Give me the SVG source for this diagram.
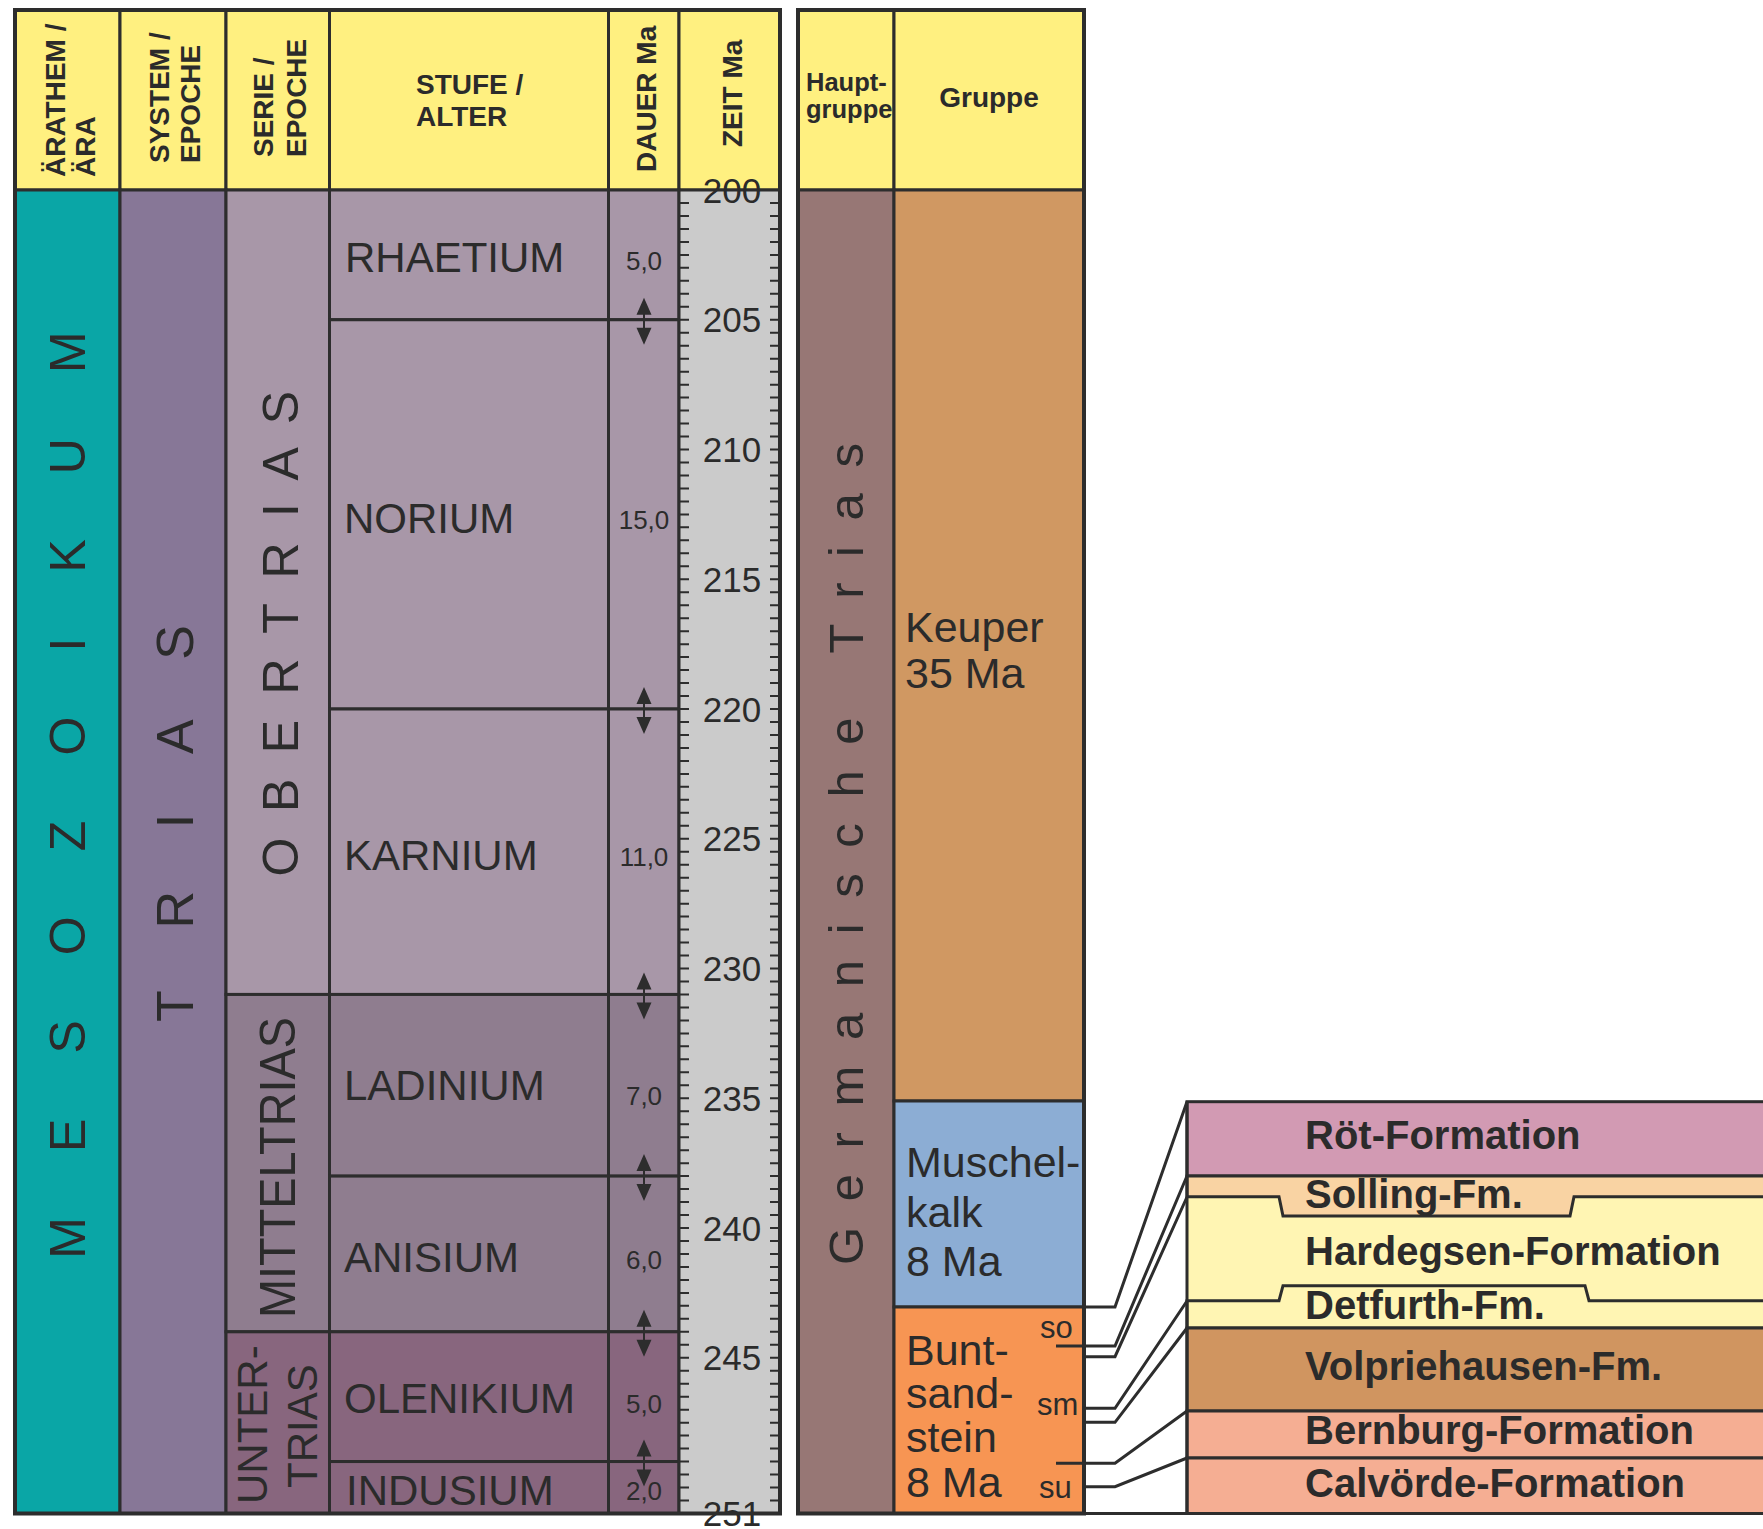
<svg xmlns="http://www.w3.org/2000/svg" width="1763" height="1529" viewBox="0 0 1763 1529">
<style>
.c{stroke:#2d2d2d;stroke-width:3}
.t{font-family:"Liberation Sans",Arial,Helvetica,sans-serif;fill:#2b2b2b}
.b{font-weight:bold}
.hd{font-size:28px;font-weight:bold}
.st{font-size:42px}
.du{font-size:26px;text-anchor:middle}
.ze{font-size:35px;text-anchor:middle}
.fm{font-size:40px;font-weight:bold}
.gr{font-size:43px}
.ln{fill:none;stroke:#2d2d2d;stroke-width:3}
.y{fill:#fff080}
.ob{fill:#a897a8}
.mi{fill:#8f7d8f}
.un{fill:#88667e}
</style>
<defs>
<g id="arr">
<path d="M0,-8V11" stroke="#2d2d2d" stroke-width="2"/>
<path d="M0,-22L-7.5,-5H7.5Z M0,25L-7.5,8H7.5Z" fill="#2d2d2d"/>
</g>
</defs>
<rect width="1763" height="1529" fill="#fff"/>

<!-- header cells -->
<g id="h-arathem"><rect class="c y" x="15" y="10" width="105" height="180"/>
<text class="t hd" transform="translate(65,177) rotate(-90)">ÄRATHEM /</text>
<text class="t hd" transform="translate(95,177) rotate(-90)">ÄRA</text></g>
<g id="h-system"><rect class="c y" x="120" y="10" width="106" height="180"/>
<text class="t hd" transform="translate(168.5,163) rotate(-90)">SYSTEM /</text>
<text class="t hd" transform="translate(200,163) rotate(-90)">EPOCHE</text></g>
<g id="h-serie"><rect class="c y" x="226" y="10" width="103.5" height="180"/>
<text class="t hd" transform="translate(273,157) rotate(-90)">SERIE /</text>
<text class="t hd" transform="translate(305.5,157) rotate(-90)">EPOCHE</text></g>
<g id="h-stufe"><rect class="c y" x="329.5" y="10" width="279" height="180"/>
<text class="t hd" x="416" y="94">STUFE /</text>
<text class="t hd" x="416" y="125.7">ALTER</text></g>
<g id="h-dauer"><rect class="c y" x="608.5" y="10" width="70.5" height="180"/>
<text class="t hd" transform="translate(655.5,172) rotate(-90)">DAUER Ma</text></g>
<g id="h-zeit"><rect class="c y" x="679" y="10" width="101" height="180"/>
<text class="t hd" transform="translate(742,147) rotate(-90)">ZEIT Ma</text></g>

<!-- era / system -->
<g id="mesozoikum"><rect class="c" fill="#0aa6a6" x="15" y="190" width="105" height="1323.5"/>
<text class="t" font-size="50" letter-spacing="25.6" transform="translate(85,1258.8) rotate(-90)">M E S O Z O I K U M</text></g>
<g id="trias"><rect class="c" fill="#877797" x="120" y="190" width="106" height="1323.5"/>
<text class="t" font-size="52" letter-spacing="24.1" transform="translate(192.6,1022) rotate(-90)">T R I A S</text></g>

<!-- series -->
<g id="obertrias"><rect class="c ob" x="226" y="190" width="103.5" height="804.45"/>
<text class="t" font-size="50" letter-spacing="5.8" transform="translate(298,876.5) rotate(-90)">O B E R T R I A S</text></g>
<g id="mitteltrias"><rect class="c mi" x="226" y="994.45" width="103.5" height="337.35"/>
<text class="t" font-size="50" textLength="301" lengthAdjust="spacingAndGlyphs" transform="translate(295,1318) rotate(-90)">MITTELTRIAS</text></g>
<g id="untertrias"><rect class="c un" x="226" y="1331.8" width="103.5" height="181.7"/>
<text class="t" font-size="42" transform="translate(267,1504) rotate(-90)">UNTER-</text>
<text class="t" font-size="42" transform="translate(317,1488) rotate(-90)">TRIAS</text></g>

<!-- stages -->
<g id="rhaetium"><rect class="c ob" x="329.5" y="190" width="279" height="129.75"/><rect class="c ob" x="608.5" y="190" width="70.5" height="129.75"/>
<text class="t st" x="345" y="272">RHAETIUM</text><text class="t du" x="644" y="270">5,0</text></g>
<g id="norium"><rect class="c ob" x="329.5" y="319.75" width="279" height="389.25"/><rect class="c ob" x="608.5" y="319.75" width="70.5" height="389.25"/>
<text class="t st" x="344" y="532.5">NORIUM</text><text class="t du" x="644" y="529">15,0</text></g>
<g id="karnium"><rect class="c ob" x="329.5" y="709" width="279" height="285.45"/><rect class="c ob" x="608.5" y="709" width="70.5" height="285.45"/>
<text class="t st" x="344" y="870">KARNIUM</text><text class="t du" x="644" y="866">11,0</text></g>
<g id="ladinium"><rect class="c mi" x="329.5" y="994.45" width="279" height="181.65"/><rect class="c mi" x="608.5" y="994.45" width="70.5" height="181.65"/>
<text class="t st" x="344" y="1100">LADINIUM</text><text class="t du" x="644" y="1105">7,0</text></g>
<g id="anisium"><rect class="c mi" x="329.5" y="1176.1" width="279" height="155.7"/><rect class="c mi" x="608.5" y="1176.1" width="70.5" height="155.7"/>
<text class="t st" x="344" y="1272">ANISIUM</text><text class="t du" x="644" y="1269">6,0</text></g>
<g id="olenikium"><rect class="c un" x="329.5" y="1331.8" width="279" height="129.75"/><rect class="c un" x="608.5" y="1331.8" width="70.5" height="129.75"/>
<text class="t st" x="344" y="1413">OLENIKIUM</text><text class="t du" x="644" y="1412.7">5,0</text></g>
<g id="indusium"><rect class="c un" x="329.5" y="1461.55" width="279" height="51.95"/><rect class="c un" x="608.5" y="1461.55" width="70.5" height="51.95"/>
<text class="t st" x="346" y="1505">INDUSIUM</text><text class="t du" x="644" y="1500">2,0</text></g>

<!-- duration arrows -->
<g id="dauer-arrows">
<use href="#arr" x="644" y="319.75"/>
<use href="#arr" x="644" y="709"/>
<use href="#arr" x="644" y="994.45"/>
<use href="#arr" x="644" y="1176.1"/>
<use href="#arr" x="644" y="1331.8"/>
<use href="#arr" x="644" y="1461.55"/>
</g>

<!-- time scale -->
<g id="zeit-scale"><rect class="c" fill="#cbcbcb" x="679" y="190" width="101" height="1323.5"/>
<line x1="684" y1="201.98" x2="684" y2="1502" stroke="#2d2d2d" stroke-width="10" stroke-dasharray="2 10.975"/>
<line x1="775" y1="201.98" x2="775" y2="1502" stroke="#2d2d2d" stroke-width="10" stroke-dasharray="2 10.975"/>
<text class="t ze" x="732" y="202.5">200</text>
<text class="t ze" x="732" y="332.3">205</text>
<text class="t ze" x="732" y="462">210</text>
<text class="t ze" x="732" y="591.8">215</text>
<text class="t ze" x="732" y="721.5">220</text>
<text class="t ze" x="732" y="851.3">225</text>
<text class="t ze" x="732" y="981">230</text>
<text class="t ze" x="732" y="1110.8">235</text>
<text class="t ze" x="732" y="1240.5">240</text>
<text class="t ze" x="732" y="1370.3">245</text>
<text class="t ze" x="732" y="1526">251</text>
</g>
<rect x="15" y="10" width="765" height="1503.5" fill="none" stroke="#2d2d2d" stroke-width="4"/>

<!-- right table -->
<g id="h-hauptgruppe"><rect class="c y" x="798" y="10" width="96" height="180"/>
<text class="t b" font-size="25.5" x="806" y="90.7">Haupt-</text>
<text class="t b" font-size="25.5" x="806" y="118">gruppe</text></g>
<g id="h-gruppe"><rect class="c y" x="894" y="10" width="190" height="180"/>
<text class="t hd" x="989" y="106.7" text-anchor="middle">Gruppe</text></g>
<g id="germanische-trias"><rect class="c" fill="#977775" x="798" y="190" width="96" height="1323.5"/>
<text class="t" font-size="49" letter-spacing="6" xml:space="preserve" transform="translate(863,1265) rotate(-90)">G e r m a n i s c h e   T r i a s</text></g>
<g id="keuper"><rect class="c" fill="#d09862" x="894" y="190" width="190" height="911"/>
<text class="t gr" x="905" y="642">Keuper</text><text class="t gr" x="905" y="688">35 Ma</text></g>
<g id="muschelkalk"><rect class="c" fill="#8cadd4" x="894" y="1101" width="190" height="206"/>
<text class="t gr" x="906" y="1177">Muschel-</text><text class="t gr" x="906" y="1227">kalk</text><text class="t gr" x="906" y="1276">8 Ma</text></g>
<g id="buntsandstein"><rect class="c" fill="#f79553" x="894" y="1307" width="190" height="206.5"/>
<text class="t gr" x="906" y="1365">Bunt-</text><text class="t gr" x="906" y="1408">sand-</text><text class="t gr" x="906" y="1452">stein</text><text class="t gr" x="906" y="1497">8 Ma</text>
<text class="t" font-size="31" x="1040" y="1338">so</text>
<text class="t" font-size="31" x="1037" y="1415">sm</text>
<text class="t" font-size="31" x="1039" y="1498">su</text></g>
<rect x="798" y="10" width="286" height="1503.5" fill="none" stroke="#2d2d2d" stroke-width="4"/>

<!-- formations -->
<g id="roet"><rect class="c" fill="#d29ab3" x="1187" y="1101.7" width="590" height="74.3"/>
<text class="t fm" x="1305" y="1149.3">Röt-Formation</text></g>
<g id="hardegsen"><rect fill="#fff5b3" x="1187" y="1176" width="590" height="124.7"/>
<text class="t fm" x="1305" y="1265">Hardegsen-Formation</text></g>
<g id="solling"><path class="c" fill="#f9d3a3" d="M1187,1176H1777V1196.7H1574L1570,1216H1283L1279,1196.7H1187Z"/>
<text class="t fm" x="1305" y="1208.3">Solling-Fm.</text></g>
<g id="detfurth"><path class="c" fill="#fff5b3" d="M1187,1328V1300.7H1279L1283,1285.7H1585L1589,1300.7H1777V1328Z"/>
<text class="t fm" x="1305" y="1319.3">Detfurth-Fm.</text></g>
<g id="volpriehausen"><rect class="c" fill="#d09560" x="1187" y="1328" width="590" height="83"/>
<text class="t fm" x="1305" y="1380">Volpriehausen-Fm.</text></g>
<g id="bernburg"><rect class="c" fill="#f5ae93" x="1187" y="1411" width="590" height="47"/>
<text class="t fm" x="1305" y="1444.3">Bernburg-Formation</text></g>
<g id="calvoerde"><rect class="c" fill="#f5ae93" x="1187" y="1458" width="590" height="55.5"/>
<text class="t fm" x="1305" y="1497.3">Calvörde-Formation</text></g>
<path class="ln" stroke-width="4" d="M1187,1101.7V1513.5"/>

<!-- connectors -->
<g id="connectors" class="ln">
<polyline points="1084,1307 1115,1307 1187,1101.7"/>
<polyline points="1056,1346 1115,1346 1187,1176"/>
<polyline points="1084,1356.7 1115,1356.7 1187,1197"/>
<polyline points="1084,1408.3 1115,1408.3 1187,1301"/>
<polyline points="1084,1422.3 1115,1422.3 1187,1328"/>
<polyline points="1056,1463.3 1115,1463.3 1187,1411"/>
<polyline points="1084,1486.7 1115,1486.7 1187,1458"/>
<polyline points="1084,1513.5 1187,1513.5"/>
</g>
</svg>
